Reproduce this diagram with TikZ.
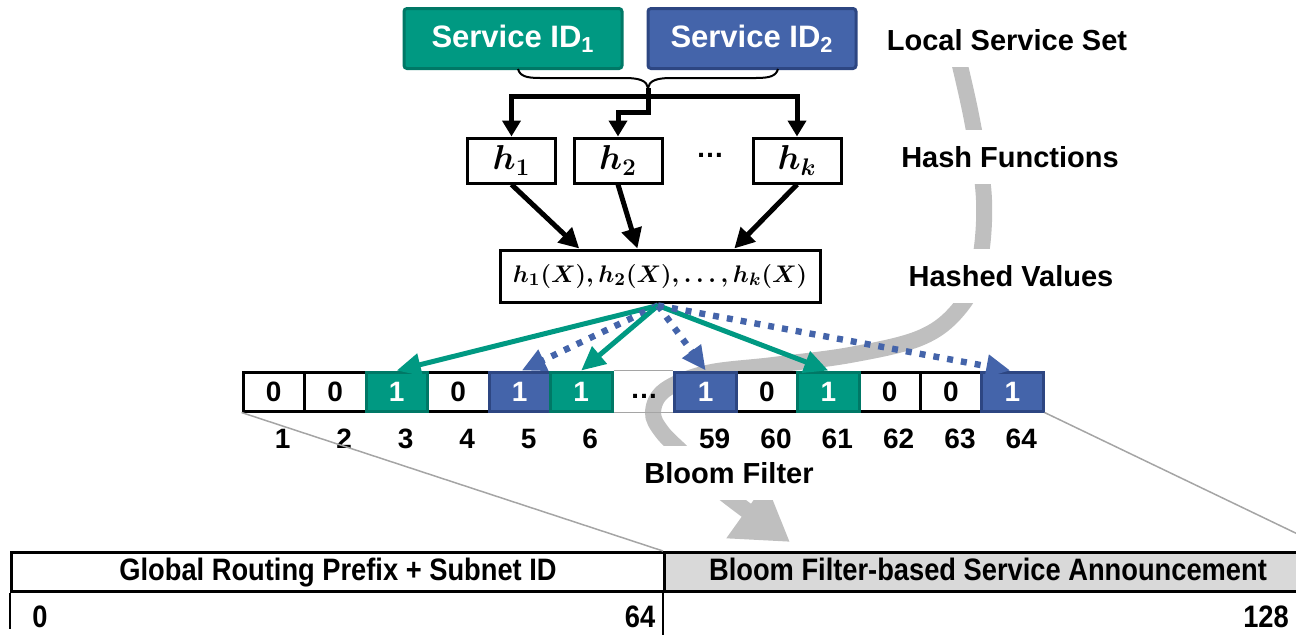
\documentclass[tikz,border=0pt]{standalone}
\usepackage[no-math]{fontspec}
\setmainfont{Liberation Sans}
\newfontfamily\narrowfont{Liberation Sans}[FakeStretch=0.88]
\usepackage{amsmath}
\usetikzlibrary{arrows.meta,calc}
\definecolor{tealg}{RGB}{0,153,130}
\definecolor{tealb}{RGB}{0,120,102}
\definecolor{blueg}{RGB}{68,100,170}
\definecolor{blueb}{RGB}{45,70,130}
\definecolor{curvegray}{RGB}{191,191,191}
\definecolor{boxgray}{RGB}{217,217,217}
\definecolor{linegray}{RGB}{165,165,165}
\begin{document}
\begin{tikzpicture}[x=0.5pt,y=-0.5pt,
 lbl/.style={font=\fontsize{14.5}{17}\selectfont\bfseries, fill=white, inner xsep=2pt, inner ysep=8pt},
 svc/.style={draw, line width=1.5pt, rounded corners=1.5pt, minimum height=30pt, text=white, font=\fontsize{15.5}{18}\selectfont\bfseries},
 hbox/.style={draw, line width=1.5pt, minimum width=44pt, minimum height=22.5pt, inner sep=0pt, font=\fontsize{17}{20}\selectfont\boldmath},
 cellw/.style={draw, line width=1.5pt, minimum width=30.75pt, minimum height=19.5pt, fill=white, inner sep=0pt, font=\fontsize{14}{16}\selectfont\bfseries},
 cellg/.style={cellw, fill=tealg, draw=tealb, text=white},
 cellb/.style={cellw, fill=blueg, draw=blueb, text=white},
 num/.style={font=\fontsize{14}{16}\selectfont\bfseries},
 addr/.style={font=\narrowfont\fontsize{15.5}{18}\selectfont\bfseries},
 addrbox/.style={addr, draw, line width=1.5pt, minimum height=19.5pt, anchor=north west, inner sep=0pt, text height=11pt, text depth=3pt},
 tree/.style={line width=2.5pt, -{Triangle[length=8pt,width=9pt]}},
 harrow/.style={line width=2.5pt, -{Triangle[length=10pt,width=10pt]}},
 garrow/.style={draw=tealg, line width=2.5pt, -{Triangle[length=12pt,width=11pt]}},
 barrow/.style={draw=blueg, line width=3.2pt, dash pattern=on 3pt off 4pt, -{Triangle[length=12pt,width=11pt]}},
 thinline/.style={draw=linegray, line width=0.75pt},
]
\useasboundingbox (0,0) rectangle (1296,638);
\clip (0,0) rectangle (1296,638);

% big gray process curve
\draw[curvegray, line width=8pt, -{Triangle[length=27pt,width=32pt]}]
  plot[smooth, tension=0.6] coordinates {(955,45) (972,120) (984,200) (978,270) (958,310) (920,338) (850,355) (773,365) (707,373) (665,390) (653,412) (662,432) (685,455) (720,490) (790,542)};

% side labels
\node[lbl] (lss) at (1007,40) {Local Service Set};
\node[lbl] (hf) at (1010,157) {Hash Functions};
\node[lbl] (hvl) at (1011,276) {Hashed Values};
\node[lbl] (bfl) at (729,473) {Bloom Filter};

% service IDs
\node[svc, fill=tealg, draw=tealb, minimum width=109pt] (s1) at (513,38.5) {Service ID\textsubscript{1}};
\node[svc, fill=blueg, draw=blueb, minimum width=104pt] (s2) at (752,38.5) {Service ID\textsubscript{2}};

% brace
\draw[line width=1pt] (518,69) .. controls (520,76) and (526,78) .. (540,78) -- (625,78) .. controls (640,78) and (647,81) .. (648,88) .. controls (649,81) and (656,78) .. (671,78) -- (756,78) .. controls (770,78) and (776,76) .. (778,69);
\coordinate (bt) at (648,88);
\coordinate (bar) at (648,96);
\coordinate (kink) at (648,112);

% hash function boxes
\node[hbox] (h1) at (511.5,160.5) {$h_1$};
\node[hbox] (h2) at (618,160.5) {$h_2$};
\node[hbox] (hk) at (797,160.5) {$h_k$};
\node[font=\fontsize{14}{16}\selectfont\bfseries] (hdots) at (710,155) {…};

\draw[line width=2.5pt] (bt) -- (bar);
\draw[tree] (bar) -| (h1.north);
\draw[tree] (bar) -| (hk.north);
\draw[tree] (bar) -- (kink) -| (h2.north);

% hashed values
\node[draw, line width=1.5pt, minimum width=160pt, minimum height=26pt, inner xsep=2pt, font=\fontsize{12.8}{16}\selectfont\boldmath] (hv) at (660,276) {$h_1(X), h_2(X), \ldots, h_k(X)$};

\draw[harrow] (h1.south) -- ($(hv.north west)!0.25!(hv.north east)$);
\draw[harrow] (h2.south) -- ($(hv.north west)!0.43!(hv.north east)$);
\draw[harrow] (hk.south) -- ($(hv.north west)!0.73!(hv.north east)$);

% bloom filter cells
\node[cellw] (c1) at (273.75,391.5) {0};
\node[cellw] (c2) at (335.25,391.5) {0};
\node[cellw] (c4) at (458.25,391.5) {0};
\node[cellw] (c60) at (767,391.5) {0};
\node[cellw] (c62) at (889.7,391.5) {0};
\node[cellw] (c63) at (951,391.5) {0};
\node[cellg] (c3) at (396.75,391.5) {1};
\node[cellb] (c5) at (519.75,391.5) {1};
\node[cellg] (c6) at (581.25,391.5) {1};
\node[cellb] (c59) at (705.7,391.5) {1};
\node[cellg] (c61) at (828.3,391.5) {1};
\node[cellb] (c64) at (1012.3,391.5) {1};
\draw[thinline] (c6.north east) -- (c59.north west);
\draw[thinline] (c6.south east) -- (c59.south west);
\node[font=\fontsize{14}{16}\selectfont\bfseries] (cdots) at (644,396) {…};

\foreach \c/\t in {c1/1,c2/2,c3/3,c4/4,c5/5,c6/6,c59/59,c60/60,c61/61,c62/62,c63/63,c64/64}
  \node[num] (n\t) at ($(\c.south)+(9,26)$) {\t};

% hashing arrows
\coordinate (src) at ($(hv.south)+(-2,2)$);
\draw[garrow] (src) -- (c3.north);
\draw[barrow] (src) -- ($(c5.north)+(2,0)$);
\draw[garrow] (src) -- (c6.north);
\draw[barrow] (src) -- (c59.north);
\draw[garrow] (src) -- (c61.north);
\draw[barrow] (src) -- ($(c64.north)+(-2,0)$);

% address layout
\node[addrbox, minimum width=326.5pt] (gr) at (10,551) {Global Routing Prefix + Subnet ID};
\node[addrbox, fill=boxgray, minimum width=323.5pt] (bf) at (663,551) {Bloom Filter-based Service Announcement};
\draw[line width=1pt] (gr.south west) -- ++(0,36);
\draw[line width=1pt] (bf.south west) -- ++(0,42);
\node[addr] (a0) at (40,617) {0};
\node[addr] (a64) at (640,617) {64};
\node[addr] (a128) at (1266,617) {128};

\coordinate (rr) at (1333,551);
\draw[thinline] (c1.south west) -- (bf.north west);
\draw[thinline] (c64.south east) -- (rr);
\end{tikzpicture}
\end{document}
